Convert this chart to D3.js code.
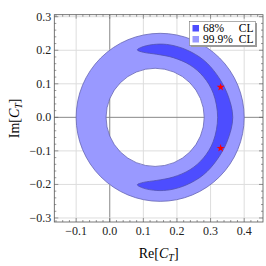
<!DOCTYPE html>
<html>
<head>
<meta charset="utf-8">
<script src="https://cdn.jsdelivr.net/npm/d3@7"></script>
<style>
  body { margin: 0; background: #fff; }
</style>
</head>
<body>
<div id="chart"></div>
<script>
/* allowed region for C_T, 68% and 99.9% CL */

// axis ticks
const xTicks = [-0.1, 0.0, 0.1, 0.2, 0.3, 0.4];
const yTicks = [-0.3, -0.2, -0.1, 0.0, 0.1, 0.2, 0.3];

// 99.9% CL ring: [re center, im center, radius]
const ringOuter = [0.15, 0, 0.25];
const ringInner = [0.135, 0, 0.146];

// 68% CL crescent, traced boundary [re, im]
const crescent = [
  [0.082, 0.201], [0.100, 0.211], [0.140, 0.218], [0.179, 0.216], [0.229, 0.201],
  [0.279, 0.171], [0.318, 0.128], [0.350, 0.070], [0.366, 0.000],
  [0.350, -0.070], [0.318, -0.128], [0.279, -0.171], [0.229, -0.201],
  [0.179, -0.216], [0.140, -0.218], [0.100, -0.211], [0.082, -0.201],
  [0.100, -0.194], [0.140, -0.188], [0.189, -0.178], [0.239, -0.156],
  [0.279, -0.121], [0.308, -0.072], [0.321, 0.000],
  [0.308, 0.072], [0.279, 0.121], [0.239, 0.156], [0.189, 0.178],
  [0.140, 0.188], [0.100, 0.194]
];

// best fit points
const bestFit = [[0.33, 0.09], [0.33, -0.092]];

const legendItems = [
  { label: "68%", cl: "CL", color: "#4d4dff" },
  { label: "99.9%", cl: "CL", color: "#9999ff" }
];

const W = 266, H = 266;
const pLeft = 54.3, pRight = 263, pTop = 14.7, pBottom = 222;
const serif = '"Liberation Serif", "Times New Roman", "DejaVu Serif", serif';

const xScale = d3.scaleLinear().domain([-0.165, 0.456]).range([pLeft, pRight]);
const yScale = d3.scaleLinear().domain([-0.312, 0.306]).range([pBottom, pTop]);

const svg = d3.select('#chart').append('svg')
  .attr('width', W)
  .attr('height', H)
  .attr('font-family', serif);

// grid
const grid = svg.append('g');
grid.selectAll('.gx').data(xTicks).enter().append('line')
  .attr('x1', d => xScale(d)).attr('x2', d => xScale(d))
  .attr('y1', pTop).attr('y2', pBottom)
  .attr('stroke', d => d === 0 ? '#888' : '#ddd')
  .attr('stroke-width', 1);
grid.selectAll('.gy').data(yTicks).enter().append('line')
  .attr('y1', d => yScale(d)).attr('y2', d => yScale(d))
  .attr('x1', pLeft).attr('x2', pRight)
  .attr('stroke', d => d === 0 ? '#888' : '#ddd')
  .attr('stroke-width', 1);

// ring (99.9%)
function circlePath(p, c) {
  const cx = xScale(c[0]), cy = yScale(c[1]);
  const r = xScale(c[2]) - xScale(0);
  p.moveTo(cx + r, cy);
  p.arc(cx, cy, r, 0, 2 * Math.PI);
  p.closePath();
}
const ringPath = d3.path();
circlePath(ringPath, ringOuter);
circlePath(ringPath, ringInner);
svg.append('path')
  .attr('d', ringPath.toString())
  .attr('fill', '#9999ff')
  .attr('fill-rule', 'evenodd')
  .attr('stroke', '#6464b4')
  .attr('stroke-width', 0.8);

// crescent (68%)
const line = d3.line()
  .x(d => xScale(d[0]))
  .y(d => yScale(d[1]))
  .curve(d3.curveCatmullRomClosed);
svg.append('path')
  .datum(crescent)
  .attr('d', line)
  .attr('fill', '#4d4dff')
  .attr('stroke', '#5050b0')
  .attr('stroke-width', 0.8);

// stars
svg.selectAll('.star').data(bestFit).enter().append('path')
  .attr('d', d3.symbol().type(d3.symbolStar).size(20))
  .attr('transform', d => `translate(${xScale(d[0])},${yScale(d[1])})`)
  .attr('fill', '#ff0000');

// frame
svg.append('rect')
  .attr('x', pLeft).attr('y', pTop)
  .attr('width', pRight - pLeft).attr('height', pBottom - pTop)
  .attr('fill', 'none')
  .attr('stroke', '#555')
  .attr('stroke-width', 0.8);

// tick marks (major + minor), all four sides
const xMinor = d3.range(-16, 46, 2).map(v => v / 100);
const yMinor = d3.range(-30, 31, 2).map(v => v / 100);
const isMajor = v => Math.abs(Math.round(v * 10) - v * 10) < 1e-6;
const tk = svg.append('g').attr('stroke', '#555').attr('stroke-width', 0.6);
xMinor.filter(v => xScale(v) > pLeft && xScale(v) < pRight).forEach(v => {
  const len = isMajor(v) ? 4 : 2;
  tk.append('line').attr('x1', xScale(v)).attr('x2', xScale(v)).attr('y1', pBottom).attr('y2', pBottom - len);
  tk.append('line').attr('x1', xScale(v)).attr('x2', xScale(v)).attr('y1', pTop).attr('y2', pTop + len);
});
yMinor.filter(v => yScale(v) > pTop && yScale(v) < pBottom).forEach(v => {
  const len = isMajor(v) ? 4 : 2;
  tk.append('line').attr('y1', yScale(v)).attr('y2', yScale(v)).attr('x1', pLeft).attr('x2', pLeft + len);
  tk.append('line').attr('y1', yScale(v)).attr('y2', yScale(v)).attr('x1', pRight).attr('x2', pRight - len);
});

// tick labels
const fmt = d => d3.format('.1f')(d).replace('-', '\u2212');
svg.selectAll('.xl').data(xTicks).enter().append('text')
  .attr('x', d => xScale(d))
  .attr('y', pBottom + 12.5)
  .attr('text-anchor', 'middle')
  .attr('font-size', 12)
  .attr('fill', '#222')
  .text(fmt);
svg.selectAll('.yl').data(yTicks).enter().append('text')
  .attr('x', pLeft - 3)
  .attr('y', d => yScale(d) + 4)
  .attr('text-anchor', 'end')
  .attr('font-size', 12)
  .attr('fill', '#222')
  .text(fmt);

// axis labels
const xl = svg.append('text')
  .attr('x', (pLeft + pRight) / 2)
  .attr('y', 258)
  .attr('text-anchor', 'middle')
  .attr('font-size', 14);
xl.append('tspan').text('Re[');
xl.append('tspan').attr('font-style', 'italic').text('C');
xl.append('tspan').attr('font-style', 'italic').attr('font-size', 10).attr('dy', 3).text('T');
xl.append('tspan').attr('dy', -3).text(']');

const yl = svg.append('text')
  .attr('transform', `translate(19,${(pTop + pBottom) / 2}) rotate(-90)`)
  .attr('text-anchor', 'middle')
  .attr('font-size', 14);
yl.append('tspan').text('Im[');
yl.append('tspan').attr('font-style', 'italic').text('C');
yl.append('tspan').attr('font-style', 'italic').attr('font-size', 10).attr('dy', 3).text('T');
yl.append('tspan').attr('dy', -3).text(']');

// legend
const lg = svg.append('g').attr('transform', 'translate(189.5,21.5)');
lg.append('rect').attr('x', 1.5).attr('y', 1.5).attr('width', 66).attr('height', 24).attr('fill', '#999');
lg.append('rect').attr('width', 66).attr('height', 24)
  .attr('fill', '#fff').attr('stroke', '#777').attr('stroke-width', 0.6);
legendItems.forEach((d, i) => {
  lg.append('rect').attr('x', 3).attr('y', 3.5 + i * 11).attr('width', 6.5).attr('height', 6.5).attr('fill', d.color);
  lg.append('text').attr('x', 13.5).attr('y', 10.5 + i * 11).attr('font-size', 11.5).text(d.label);
  lg.append('text').attr('x', 64).attr('y', 10.5 + i * 11).attr('text-anchor', 'end').attr('font-size', 11.5).text(d.cl);
});
</script>
</body>
</html>
